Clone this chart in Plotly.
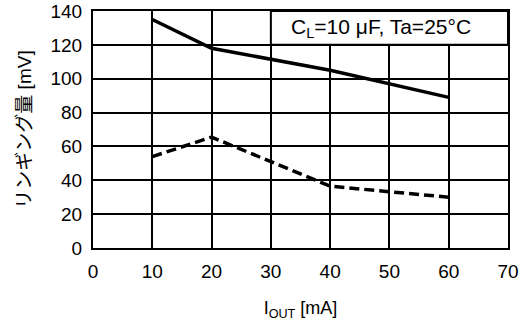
import plotly.graph_objects as go

# I_OUT [mA]
x_solid = [10, 20, 40, 60]
y_solid = [135, 118, 105, 89]
x_dash = [10, 20, 40, 60]
y_dash = [54, 65.5, 36.5, 30]

x_ticks = [0, 10, 20, 30, 40, 50, 60, 70]
y_ticks = [0, 20, 40, 60, 80, 100, 120, 140]

FONT = "Arial, Liberation Sans, Noto Sans CJK JP, sans-serif"

fig = go.Figure()
fig.add_trace(go.Scatter(x=x_solid, y=y_solid, mode="lines",
                         line=dict(color="black", width=3.5), showlegend=False))
fig.add_trace(go.Scatter(x=x_dash, y=y_dash, mode="lines",
                         line=dict(color="black", width=3.5, dash="10px,5px"),
                         showlegend=False))

# condition box in the upper right cell
fig.add_shape(type="rect", x0=30, x1=70, y0=120, y1=140, xref="x", yref="y",
              fillcolor="white", line=dict(color="black", width=2), layer="between")
fig.add_annotation(x=48.5, y=130, xref="x", yref="y",
                   text="C<sub>L</sub>=10 μF, Ta=25°C", showarrow=False,
                   font=dict(size=21, color="black", family=FONT))

axis_common = dict(
    showline=True, mirror=True, linecolor="black", linewidth=2,
    showgrid=True, gridcolor="black", gridwidth=2, automargin=False,
    zeroline=False, ticks="", tickfont=dict(size=19, color="black", family=FONT),
    ticklabeloverflow="allow", fixedrange=True,
)
fig.update_xaxes(range=[0, 70], tickvals=x_ticks, ticklabelstandoff=5,
                 title=dict(text="I<sub>OUT</sub> [mA]", standoff=21,
                            font=dict(size=18, color="black", family=FONT)),
                 **axis_common)
fig.update_yaxes(range=[0, 140], tickvals=y_ticks, ticklabelstandoff=5,
                 title=dict(text="リンギング量 [mV]", standoff=14,
                            font=dict(size=19, color="black", family=FONT)),
                 **axis_common)

fig.update_layout(
    width=520, height=323,
    margin=dict(l=93, r=12, t=11, b=75),
    plot_bgcolor="white", paper_bgcolor="white",
    font=dict(family=FONT, color="black"),
)

# drop the browser's default body margin so the figure sits at the page corner
fig.write_html("out.html", config={"displayModeBar": False},
               post_script="document.body.style.margin='0px';")
